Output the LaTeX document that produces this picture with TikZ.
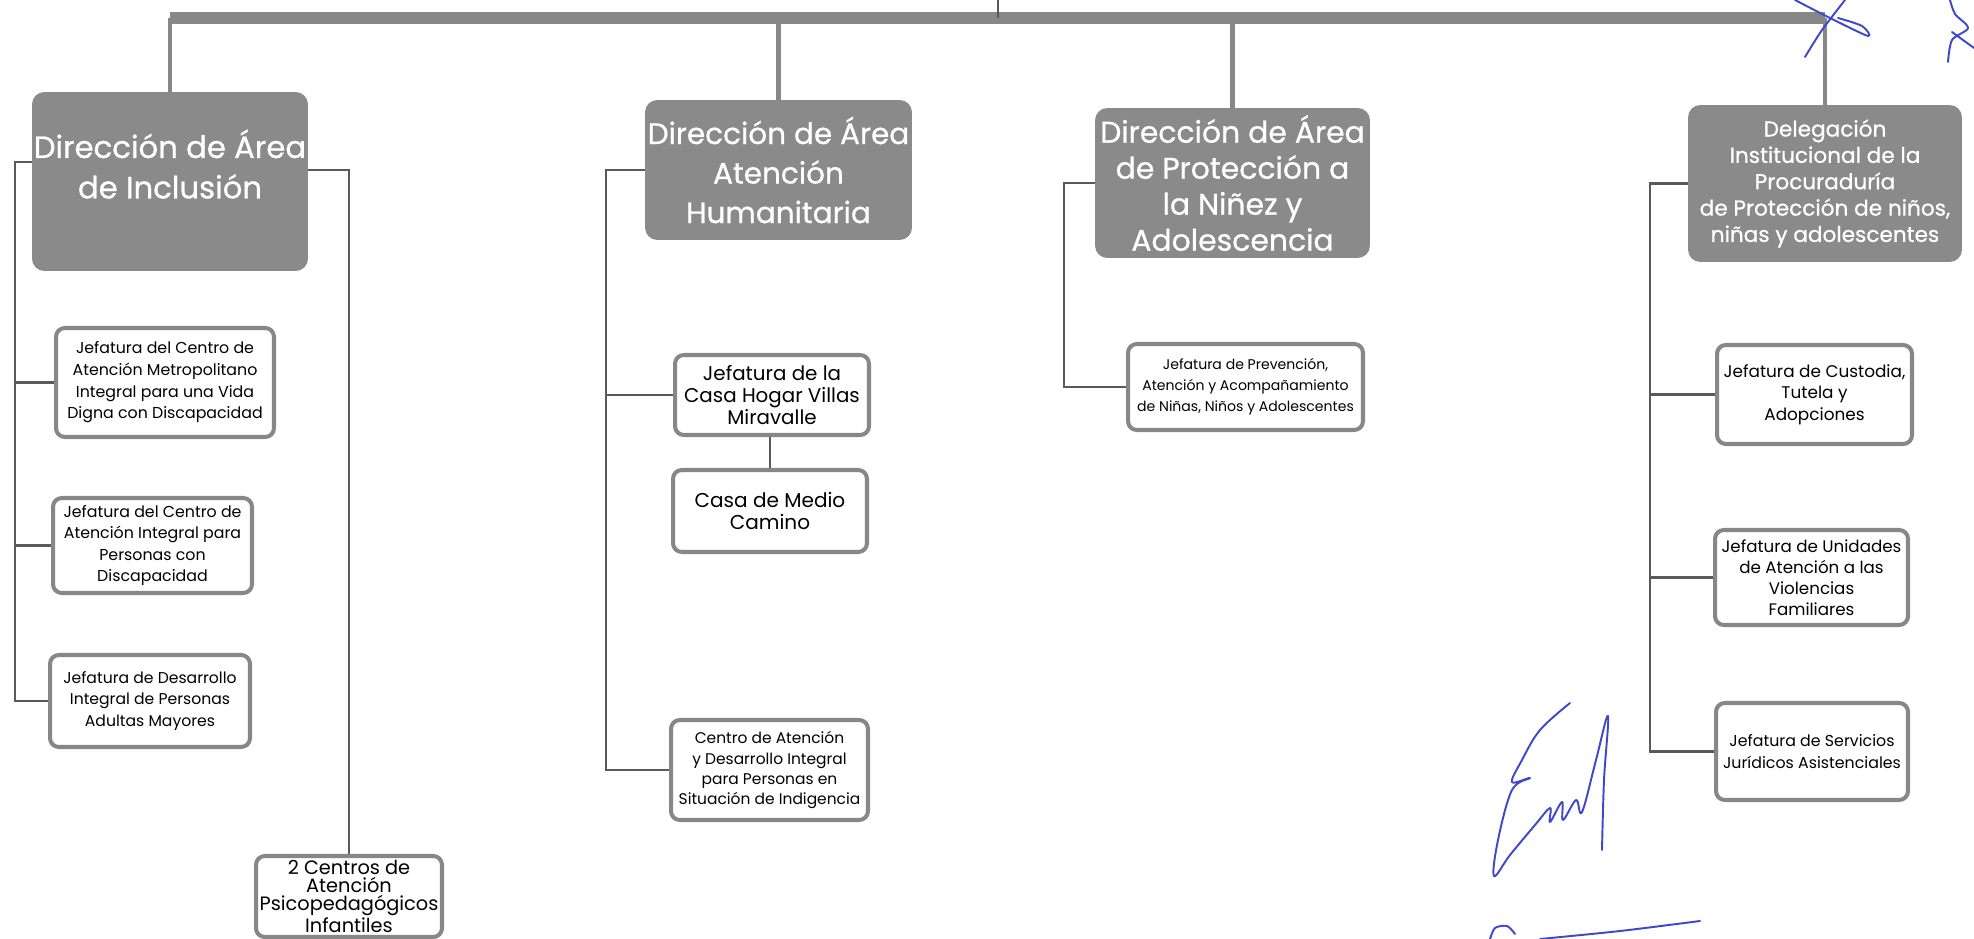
\documentclass[tikz,border=0pt]{standalone}
\usepackage{fontspec}
\setmainfont{Poppins}
\newfontfamily\headfont{Poppins}[FakeBold=0.8]
\definecolor{headgray}{RGB}{138,138,138}
\definecolor{boxgray}{RGB}{135,135,135}
\definecolor{bargray}{RGB}{135,135,135}
\definecolor{linkgray}{RGB}{90,90,90}
\definecolor{inkblue}{RGB}{62,72,200}
\begin{document}
\begin{tikzpicture}[
    x=0.02cm, y=-0.02cm,
    head/.style={fill=headgray, text=white, rounded corners=7pt, align=center, inner sep=0pt},
    unit/.style={draw=boxgray, line width=2.3pt, fill=white, rounded corners=5pt, align=center, inner sep=0pt},
    bar/.style={draw=bargray, line width=6.5pt},
    drop/.style={draw=bargray, line width=2.4pt},
    link/.style={draw=linkgray, line width=1.2pt},
    sign/.style={draw=inkblue, line width=1.1pt, line cap=round, line join=round}
]
\useasboundingbox (0,0) rectangle (1974,939);

% Nodes - direcciones
\node[head, minimum width=5.52cm, minimum height=3.58cm, text depth=20pt, font=\headfont\fontsize{17.5}{23}\selectfont] (incl) at (170,181.5) {Dirección de Área\\de Inclusión};
\node[head, minimum width=5.34cm, minimum height=2.80cm, font=\headfont\fontsize{16.8}{22.5}\selectfont] (human) at (778.5,170) {Dirección de Área\\Atención\\Humanitaria};
\node[head, minimum width=5.50cm, minimum height=3.00cm, font=\headfont\fontsize{17}{20.5}\selectfont] (prot) at (1232.5,183) {Dirección de Área\\de Protección a\\la Niñez y\\Adolescencia};
\node[head, minimum width=5.48cm, minimum height=3.14cm, font=\headfont\fontsize{12.3}{15}\selectfont] (deleg) at (1825,183.5) {Delegación\\Institucional de la\\Procuraduría\\de Protección de niños,\\niñas y adolescentes};

% Nodes - jefaturas
\node[unit, minimum width=4.36cm, minimum height=2.18cm, font=\fontsize{9}{12.3}\selectfont] (incA) at (165,382.5) {Jefatura del Centro de\\Atención Metropolitano\\Integral para una Vida\\Digna con Discapacidad};
\node[unit, minimum width=3.98cm, minimum height=1.90cm, font=\fontsize{9}{12}\selectfont] (incB) at (152.5,545.5) {Jefatura del Centro de\\Atención Integral para\\Personas con\\Discapacidad};
\node[unit, minimum width=4.00cm, minimum height=1.84cm, font=\fontsize{8.9}{12}\selectfont] (incC) at (150,701) {Jefatura de Desarrollo\\Integral de Personas\\Adultas Mayores};
\node[unit, minimum width=3.72cm, minimum height=1.62cm, font=\fontsize{11}{10.3}\selectfont] (infant) at (349,896.5) {2 Centros de\\Atención\\Psicopedagógicos\\Infantiles};

\node[unit, minimum width=3.88cm, minimum height=1.60cm, font=\fontsize{11.3}{12.8}\selectfont] (villas) at (772,395) {Jefatura de la\\Casa Hogar Villas\\Miravalle};
\node[unit, minimum width=3.88cm, minimum height=1.64cm, font=\fontsize{11.4}{13}\selectfont] (camino) at (770,511) {Casa de Medio\\Camino};
\node[unit, minimum width=3.94cm, minimum height=2.00cm, font=\fontsize{8.8}{11.4}\selectfont] (indig) at (769.5,770) {Centro de Atención\\y Desarrollo Integral\\para Personas en\\Situación de Indigencia};

\node[unit, minimum width=4.70cm, minimum height=1.72cm, font=\fontsize{8}{12}\selectfont] (prev) at (1245.5,387) {Jefatura de Prevención,\\Atención y Acompañamiento\\de Niñas, Niños y Adolescentes};

\node[unit, minimum width=3.90cm, minimum height=1.98cm, font=\fontsize{9.6}{12.3}\selectfont] (custod) at (1814.5,394.5) {Jefatura de Custodia,\\Tutela y\\Adopciones};
\node[unit, minimum width=3.86cm, minimum height=1.90cm, font=\fontsize{9.5}{12}\selectfont] (violen) at (1811.5,577.5) {Jefatura de Unidades\\de Atención a las\\Violencias\\Familiares};
\node[unit, minimum width=3.84cm, minimum height=1.94cm, font=\fontsize{9}{12.8}\selectfont] (jurid) at (1812,751.5) {Jefatura de Servicios\\Jurídicos Asistenciales};

% Lines - top bar
\coordinate (stub) at (998,0);
\coordinate (barL) at (170,18);
\coordinate (barR) at (1825,18);
\draw[bar] (barL) -- (barR);
\draw[link, line width=1.5pt] (stub) -- (stub |- barL);
\draw[drop] (barL) -- (incl.north);
\draw[drop] (human.north |- barL) -- (human.north);
\draw[drop] (prot.north |- barL) -- (prot.north);
\draw[drop] (barR) -- (deleg.north);

% Lines - inclusion
\coordinate (inclL) at (15,162);
\coordinate (inclR) at (349,170);
\draw[link] (incl.west |- inclL) -- (inclL) |- (incC.west);
\draw[link] (inclL |- incA.west) -- (incA.west);
\draw[link] (inclL |- incB.west) -- (incB.west);
\draw[link] (incl.east |- inclR) -- (inclR) -- (infant.north);

% Lines - humanitaria
\coordinate (humL) at (606,170);
\draw[link] (human.west) -- (humL) |- (indig.west);
\draw[link] (humL |- villas.west) -- (villas.west);
\draw[link] (camino.north |- villas.south) -- (camino.north);

% Lines - proteccion
\coordinate (protL) at (1064,183);
\draw[link] (prot.west) -- (protL) |- (prev.west);

% Lines - delegacion
\coordinate (delegL) at (1650,183.5);
\draw[link] (deleg.west) -- (delegL) |- (jurid.west);
\draw[link] (delegL |- custod.west) -- (custod.west);
\draw[link] (delegL |- violen.west) -- (violen.west);

% Signatures
\draw[sign] plot[smooth] coordinates {(1805,57) (1822,30) (1845,0)};
\draw[sign] plot[smooth] coordinates {(1795,0) (1830,18) (1868,36) (1862,26) (1838,18)};
\draw[sign] plot[smooth] coordinates {(1948,62) (1952,40) (1968,28) (1955,14) (1950,0)};
\draw[sign] plot[smooth] coordinates {(1952,32) (1974,48)};
\draw[sign] plot[smooth, tension=0.6] coordinates {(1570,703) (1540,730) (1522,760) (1512,782) (1530,778) (1512,790) (1498,840) (1494,876) (1510,855) (1535,825) (1550,808) (1550,822) (1562,802) (1563,820) (1576,800) (1582,812) (1596,760) (1608,716) (1604,780) (1602,850)};
\draw[sign] plot[smooth] coordinates {(1490,939) (1495,928) (1507,926) (1515,934)};
\draw[sign] plot[smooth] coordinates {(1540,939) (1620,931) (1700,921)};
\end{tikzpicture}
\end{document}
